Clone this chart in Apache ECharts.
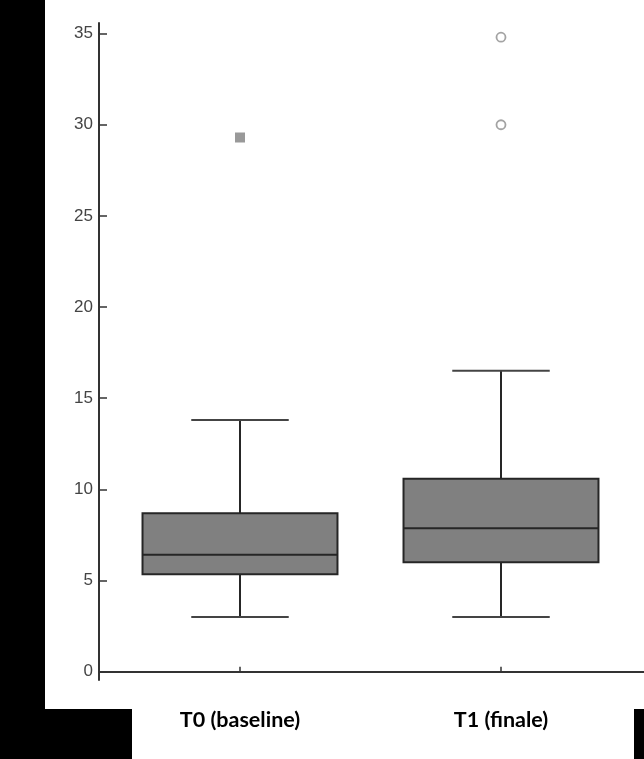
<!DOCTYPE html>
<html>
<head>
<meta charset="utf-8">
<script src="https://cdn.jsdelivr.net/npm/echarts@6/dist/echarts.min.js"></script>
<style>
  html, body { margin: 0; padding: 0; background: #ffffff; }
  #chart { width: 644px; height: 759px; }
</style>
</head>
<body>
<div id="chart"></div>
<script>
// ---- data ----
const categories = ['T0 (baseline)', 'T1 (finale)'];
const lowWhisker = [3.0, 3.0];
const q1 = [5.35, 6.0];
const median = [6.42, 7.87];
const q3 = [8.69, 10.58];
const highWhisker = [13.8, 16.5];
const outliersT0 = [29.3];
const outliersT1 = [30.0, 34.8];
const yTicks = [0, 5, 10, 15, 20, 25, 30, 35];

// ---- chart ----
const Y_MIN = -0.455, Y_MAX = 35.58;
const DARK = '#262626';

const boxData = categories.map((c, i) => [i, lowWhisker[i], q1[i], median[i], q3[i], highWhisker[i]]);

function renderBox(params, api) {
  const x = api.value(0);
  const pLow = api.coord([x, api.value(1)]);
  const pQ1 = api.coord([x, api.value(2)]);
  const pMed = api.coord([x, api.value(3)]);
  const pQ3 = api.coord([x, api.value(4)]);
  const pHigh = api.coord([x, api.value(5)]);
  const band = api.size([1, 0])[0];
  const bw = band * 0.747;
  const cw = bw / 2;
  const cx = pMed[0];
  const ls = { stroke: DARK, lineWidth: 2 };
  const cs = { stroke: '#444', lineWidth: 2 };
  return {
    type: 'group',
    children: [
      { type: 'line', shape: { x1: cx, y1: pHigh[1], x2: cx, y2: pQ3[1] }, style: ls },
      { type: 'line', shape: { x1: cx, y1: pQ1[1], x2: cx, y2: pLow[1] }, style: ls },
      { type: 'line', shape: { x1: cx - cw / 2, y1: pHigh[1], x2: cx + cw / 2, y2: pHigh[1] }, style: cs },
      { type: 'line', shape: { x1: cx - cw / 2, y1: pLow[1], x2: cx + cw / 2, y2: pLow[1] }, style: cs },
      { type: 'rect', shape: { x: cx - bw / 2, y: pQ3[1], width: bw, height: pQ1[1] - pQ3[1] },
        style: { fill: '#808080', stroke: DARK, lineWidth: 2 } },
      { type: 'line', shape: { x1: cx - bw / 2, y1: pMed[1], x2: cx + bw / 2, y2: pMed[1] }, style: ls }
    ]
  };
}

const chart = echarts.init(document.getElementById('chart'), null, { renderer: 'canvas' });
chart.setOption({
  backgroundColor: '#ffffff',
  animation: false,
  graphic: [
    { type: 'rect', left: 0, top: 0, shape: { width: 45, height: 709 }, style: { fill: '#000' }, z: 100 },
    { type: 'rect', left: 0, top: 709, shape: { width: 132, height: 50 }, style: { fill: '#000' }, z: 100 },
    { type: 'rect', left: 634, top: 709, shape: { width: 10, height: 50 }, style: { fill: '#000' }, z: 100 }
  ],
  grid: [
    { left: 99, right: 0, top: 23, bottom: 79 },
    { left: 109.5, right: 12.5, top: 23, bottom: 79 }
  ],
  xAxis: [
    {
      gridIndex: 0, type: 'value', min: 0, max: 1,
      axisLine: { show: true, lineStyle: { color: '#333', width: 2 } },
      axisTick: { show: false }, axisLabel: { show: false }, splitLine: { show: false }
    },
    {
      gridIndex: 1, type: 'category', data: categories,
      axisLine: { show: false },
      axisTick: { show: true, inside: true, length: 5, alignWithLabel: true, lineStyle: { color: '#333', width: 1.5 } },
      axisLabel: { show: true, margin: 29, color: '#000', fontSize: 21.5, fontWeight: 'bold', fontFamily: 'Lato' },
      splitLine: { show: false }
    }
  ],
  yAxis: [
    {
      gridIndex: 0, type: 'value', min: Y_MIN, max: Y_MAX,
      axisLine: { show: true, lineStyle: { color: '#333', width: 2 } },
      axisTick: { show: true, inside: true, length: 8, customValues: yTicks, lineStyle: { color: '#333', width: 1.5 } },
      axisLabel: { show: true, customValues: yTicks, margin: 6, color: '#444', fontSize: 17, fontFamily: 'Liberation Sans' },
      splitLine: { show: false }
    },
    {
      gridIndex: 1, type: 'value', min: Y_MIN, max: Y_MAX, show: false, splitLine: { show: false }
    }
  ],
  series: [
    {
      type: 'custom', xAxisIndex: 1, yAxisIndex: 1,
      renderItem: renderBox,
      encode: { x: 0, y: [1, 2, 3, 4, 5] },
      data: boxData
    },
    {
      type: 'scatter', xAxisIndex: 1, yAxisIndex: 1,
      symbol: 'rect', symbolSize: 10,
      itemStyle: { color: '#808080' },
      data: outliersT0.map(v => [0, v])
    },
    {
      type: 'scatter', xAxisIndex: 1, yAxisIndex: 1,
      symbol: 'circle', symbolSize: 9,
      itemStyle: { color: '#ffffff', borderColor: '#8c8c8c', borderWidth: 1.8 },
      data: outliersT1.map(v => [1, v])
    }
  ]
});
</script>
</body>
</html>
